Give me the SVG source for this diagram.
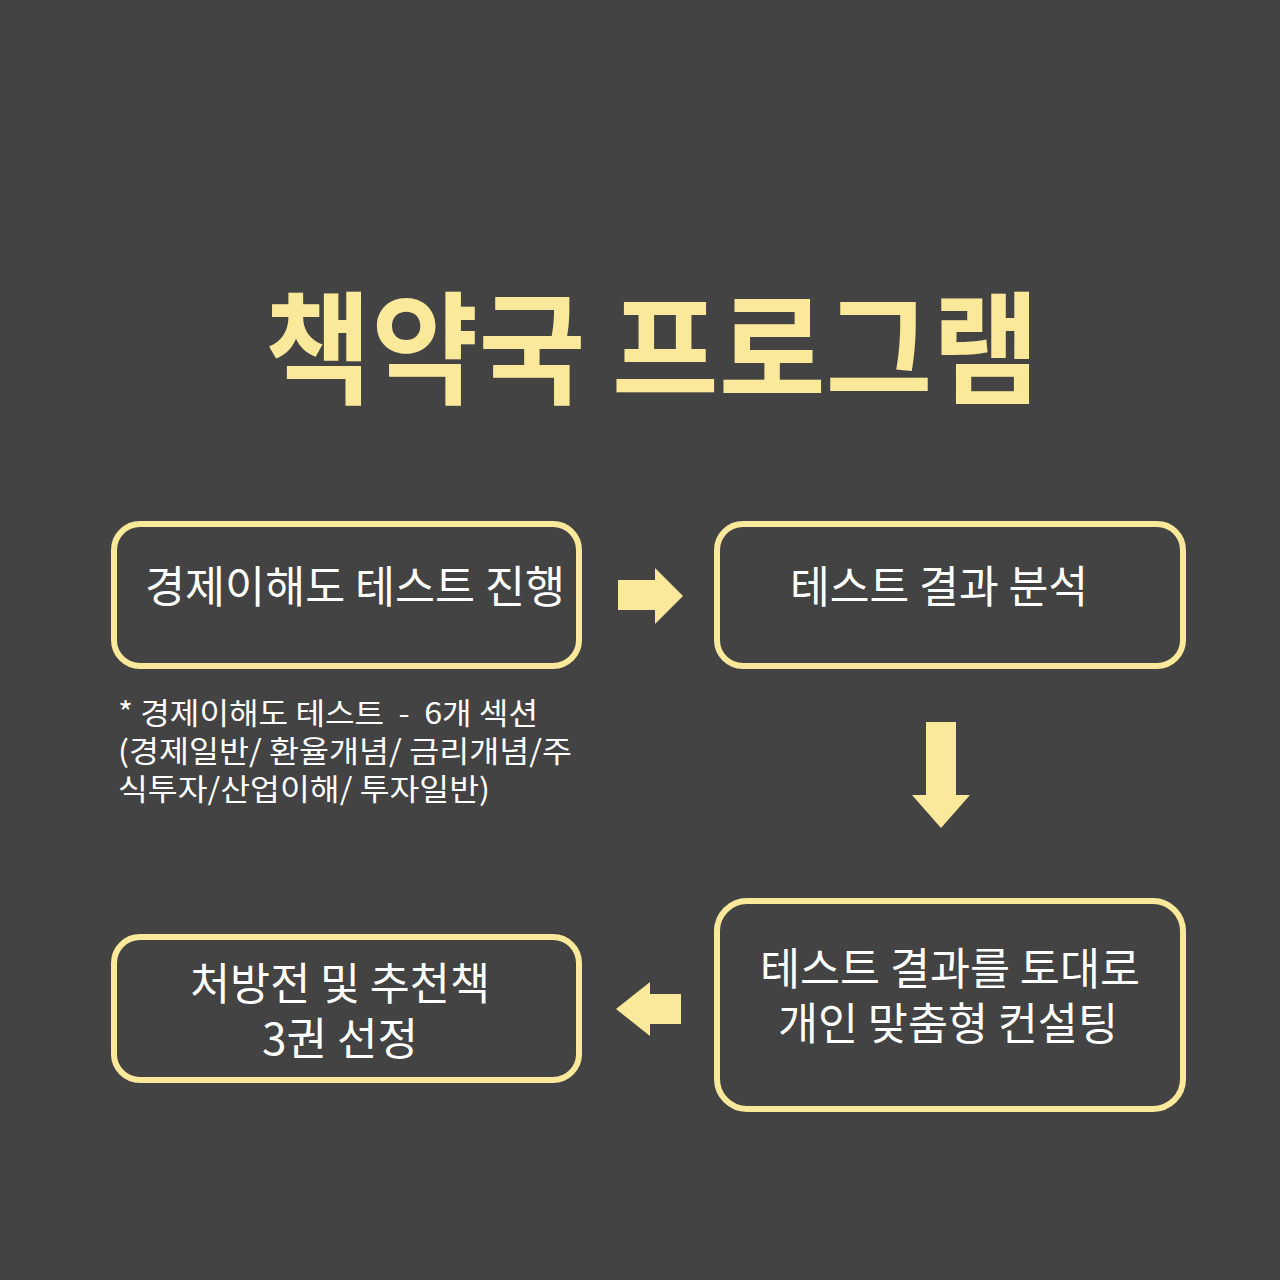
<svg xmlns="http://www.w3.org/2000/svg" width="1280" height="1280" viewBox="0 0 1280 1280">
<style>
.box{fill:#434343;stroke:#FBE99B;stroke-width:6}
.t{font-family:"Noto Sans CJK KR","Noto Sans",sans-serif;fill:#ffffff;font-size:44px;text-anchor:middle}
.n{font-family:"Noto Sans CJK KR","Noto Sans",sans-serif;fill:#ffffff;font-size:30px;white-space:pre}
.arr{fill:#FBE99B}
</style>
<rect width="1280" height="1280" fill="#434343"/>
<text x="652" y="394" font-family="'Noto Sans CJK KR',sans-serif" font-weight="bold" font-size="122" fill="#FBE99B" text-anchor="middle" textLength="775" lengthAdjust="spacingAndGlyphs">책약국 프로그램</text>
<g id="node1">
<rect class="box" x="114" y="524" width="465" height="142" rx="26"/>
<text class="t" x="355" y="603" textLength="420" lengthAdjust="spacingAndGlyphs">경제이해도 테스트 진행</text>
</g>
<g id="note">
<text class="n" x="118" y="724" textLength="420" lengthAdjust="spacingAndGlyphs" xml:space="preserve">* 경제이해도 테스트  -  6개 섹션</text>
<text class="n" x="118" y="762" textLength="454" lengthAdjust="spacingAndGlyphs">(경제일반/ 환율개념/ 금리개념/주</text>
<text class="n" x="118" y="800" textLength="372" lengthAdjust="spacingAndGlyphs">식투자/산업이해/ 투자일반)</text>
</g>
<g id="node2">
<rect class="box" x="717" y="524" width="466" height="142" rx="26"/>
<text class="t" x="939" y="603" textLength="298" lengthAdjust="spacingAndGlyphs">테스트 결과 분석</text>
</g>
<g id="node3">
<rect class="box" x="717" y="901" width="466" height="208" rx="30"/>
<text class="t" x="950" y="985" textLength="380" lengthAdjust="spacingAndGlyphs">테스트 결과를 토대로</text>
<text class="t" x="948" y="1040" textLength="340" lengthAdjust="spacingAndGlyphs">개인 맞춤형 컨설팅</text>
</g>
<g id="node4">
<rect class="box" x="114" y="937" width="465" height="143" rx="26"/>
<text class="t" x="340" y="1000" textLength="300" lengthAdjust="spacingAndGlyphs">처방전 및 추천책</text>
<text class="t" x="340" y="1055" textLength="156" lengthAdjust="spacingAndGlyphs">3권 선정</text>
</g>
<g id="connectors">
<polygon class="arr" points="618,580 655,580 655,568 683,596 655,624 655,610 618,610"/>
<polygon class="arr" points="926,722 956,722 956,795 970,795 941,828 912,795 926,795"/>
<polygon class="arr" points="681,994 650,994 650,982 616,1009 650,1036 650,1024 681,1024"/>
</g>
</svg>
